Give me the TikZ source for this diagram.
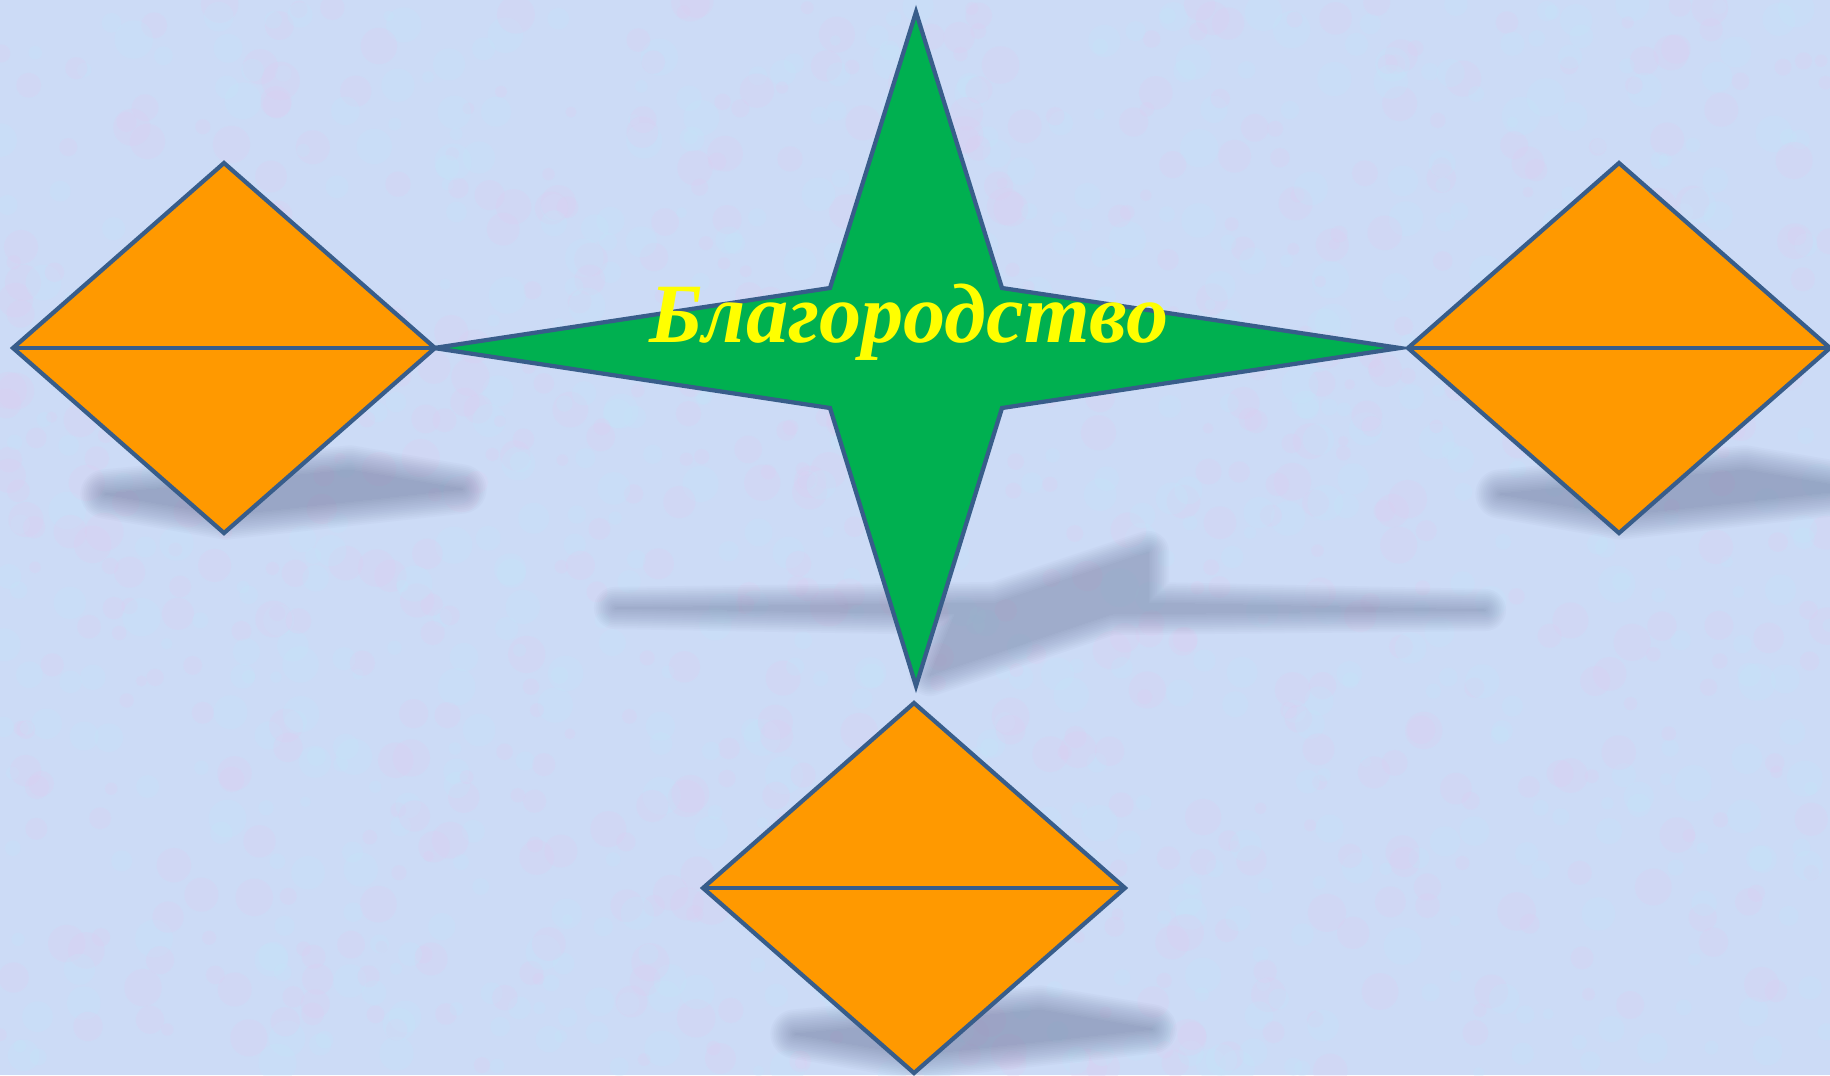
\documentclass[tikz,border=0pt]{standalone}
\usepackage{fontspec}
\setmainfont{Liberation Serif}
\definecolor{bgblue}{RGB}{204,219,246}
\definecolor{bgpink}{RGB}{222,206,242}
\definecolor{bglight}{RGB}{196,230,250}
\definecolor{starfill}{RGB}{0,176,80}
\definecolor{kitefill}{RGB}{255,153,0}
\definecolor{edgeblue}{RGB}{56,93,138}
\definecolor{shadowcol}{RGB}{95,105,145}
\definecolor{titleyellow}{RGB}{255,255,0}
\tikzset{
  starbox/.style={draw=edgeblue,fill=starfill,line width=1.2pt,line join=miter},
  kitebox/.style={draw=edgeblue,fill=kitefill,line width=1.2pt},
  kiteline/.style={draw=edgeblue,line width=1.2pt},
  shadelayer/.style={transparency group,opacity=.035},
  shade/.style={fill=shadowcol,draw=shadowcol,line join=round},
  speck/.style={opacity=.25},
  titletext/.style={text=titleyellow,font=\fontsize{24}{29}\selectfont\bfseries\itshape,inner sep=0pt}
}

\begin{document}
\begin{tikzpicture}[x=0.01cm,y=-0.01cm]
  \fill[bgblue] (0,0) rectangle (1830,1075);
  \useasboundingbox (0,0) rectangle (1830,1075);

  % texture of the background
  \pgfmathsetseed{7}
  \foreach \i in {1,...,1400}{
    \pgfmathsetmacro{\px}{rnd*1830}
    \pgfmathsetmacro{\py}{rnd*1075}
    \pgfmathsetmacro{\pr}{1.5+rnd*4}
    \pgfmathtruncatemacro{\pc}{mod(\i,2)}
    \ifnum\pc=0 \fill[bgpink,speck] (\px,\py) circle (\pr pt);
    \else \fill[bglight,speck] (\px,\py) circle (\pr pt); \fi
  }

  % shadows
  \foreach \dx/\dy in {0/0,1395/0,690/540}{
    \foreach \w in {0,...,14}{
      \begin{scope}[shadelayer]
        \path[shade,line width=\w pt,shift={(\dx,\dy)}] (105,494) -- (350,470) -- (462,489) -- (226,515) -- cycle;
      \end{scope}
    }
  }
  \foreach \w in {0,...,12}{
    \begin{scope}[shadelayer]
      \path[shade,line width=\w pt] (615,608) -- (995,603) -- (1148,552) -- (1148,603) -- (1485,610) -- (1111,614) -- (930,675) -- (955,614) -- cycle;
    \end{scope}
  }

  % star
  \draw[starbox] (916,12) -- (1002,288) -- (1400,348) -- (1002,408) -- (916,686) -- (830,408) -- (434,348) -- (830,288) -- cycle;

  % diamonds
  \foreach \cx/\cy in {224/348,1619/348,914/888}{
    \draw[kitebox] (\cx,\cy-185) -- (\cx+211,\cy) -- (\cx,\cy+185) -- (\cx-211,\cy) -- cycle;
    \draw[kiteline] (\cx-211,\cy) -- (\cx+211,\cy);
  }

  \node[titletext,anchor=base] (title) at (909,342) {Благородство};
\end{tikzpicture}
\end{document}
